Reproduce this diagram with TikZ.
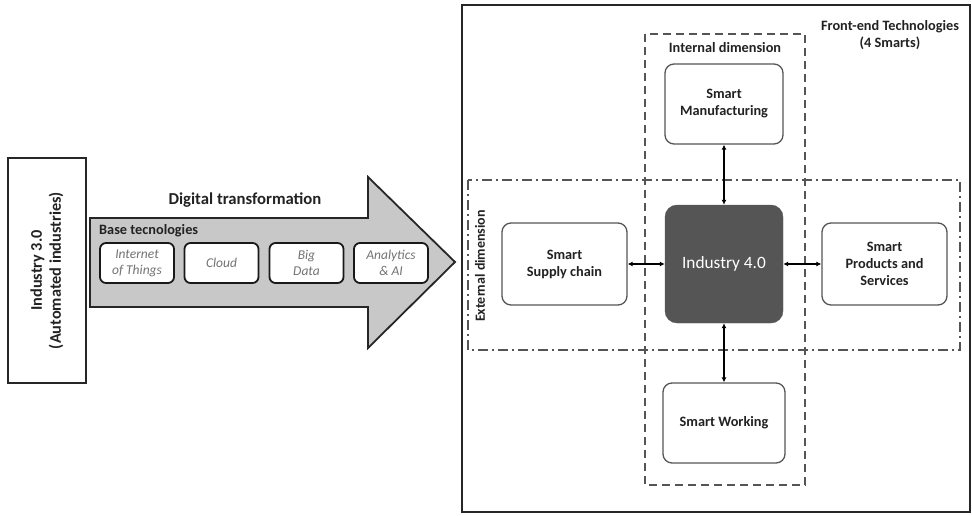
\documentclass[tikz,border=0pt]{standalone}
\usepackage{fontspec}
\setmainfont{Carlito}
\usetikzlibrary{arrows.meta}
\definecolor{txt}{HTML}{222222}
\definecolor{edge}{HTML}{555555}
\definecolor{arrowfill}{HTML}{C8C8C8}
\definecolor{coreFill}{HTML}{555555}
\tikzset{
  smartbox/.style={draw=edge, line width=1.3pt, rounded corners=9pt, fill=white, align=center, text=txt, font=\fontsize{14.3}{17}\selectfont\bfseries, inner sep=2pt},
  basebox/.style={draw=black!90, line width=1.8pt, rounded corners=6pt, fill=white, align=center, text=black!55, font=\fontsize{13.5}{16}\selectfont\itshape, minimum width=74pt, minimum height=40pt, inner sep=1pt},
  link/.style={line width=1.3pt, {Latex[length=5pt,width=5pt]}-{Latex[length=5pt,width=5pt]}},
  lbl/.style={text=txt, align=center, inner sep=0pt}
}
\begin{document}
\begin{tikzpicture}[x=1pt,y=-1pt]
\useasboundingbox (0,0) rectangle (972,516);
% Industry 3.0
\node[draw=black!85, line width=1.8pt, minimum width=78pt, minimum height=225pt, inner sep=0pt] (i3) at (47,270.5) {};
\node[lbl, rotate=90, font=\fontsize{16.3}{19}\selectfont\bfseries] (i3t) at (i3.center) {Industry 3.0\\(Automated industries)};
% big arrow
\draw[line width=1.8pt, draw=black!85, fill=arrowfill, line join=miter] (90,218) -- (368,218) -- (368,177) -- (455,262) -- (368,348) -- (368,307) -- (90,307) -- cycle;
\node[lbl, font=\fontsize{16.7}{19}\selectfont\bfseries] (dt) at (245,200) {Digital transformation};
\node[lbl, anchor=west, font=\fontsize{14.3}{17}\selectfont\bfseries] (bt) at (99,231) {Base tecnologies};
\node[basebox] (iot) at (137,263) {Internet\\of Things};
\node[basebox] (cloud) at (221.5,263) {Cloud};
\node[basebox] (bigd) at (306.5,263) {Big\\Data};
\node[basebox] (ana) at (391,263) {Analytics\\\&\ AI};
% right frame
\node[draw=black!85, line width=1.8pt, minimum width=508pt, minimum height=507pt, inner sep=0pt] (frame) at (716,258.5) {};
\node[lbl, font=\fontsize{14.3}{17}\selectfont\bfseries] (fe) at (890,35) {Front-end Technologies\\(4 Smarts)};
% dimension boxes
\draw[edge, line width=1.5pt, dash pattern=on 8pt off 5pt] (645,34) rectangle (805,485);
\draw[edge, line width=1.5pt, dash pattern=on 10pt off 4pt on 2pt off 4pt] (468,180) rectangle (960,350);
\node[lbl, font=\fontsize{14.3}{17}\selectfont\bfseries] (intd) at (725,48) {Internal dimension};
\node[lbl, rotate=90, font=\fontsize{14}{17}\selectfont\bfseries] (extd) at (480,266) {External dimension};
% smart boxes
\node[smartbox, minimum width=118pt, minimum height=80pt] (man) at (724,104) {Smart\\Manufacturing};
\node[smartbox, minimum width=125pt, minimum height=82pt] (sup) at (564.5,264) {Smart\\Supply chain};
\node[draw=coreFill, fill=coreFill, rounded corners=12pt, minimum width=118pt, minimum height=118pt, text=white, font=\fontsize{17.3}{20}\selectfont] (i4) at (724,264) {Industry 4.0};
\node[smartbox, minimum width=125pt, minimum height=82pt] (prod) at (884.5,264) {Smart\\Products and\\Services};
\node[smartbox, minimum width=122pt, minimum height=80pt] (work) at (724,423) {Smart Working};
% links
\draw[link] (i4.north) -- (man.south);
\draw[link] (i4.south) -- (work.north);
\draw[link] (i4.west) -- (sup.east);
\draw[link] (i4.east) -- (prod.west);
\end{tikzpicture}
\end{document}
